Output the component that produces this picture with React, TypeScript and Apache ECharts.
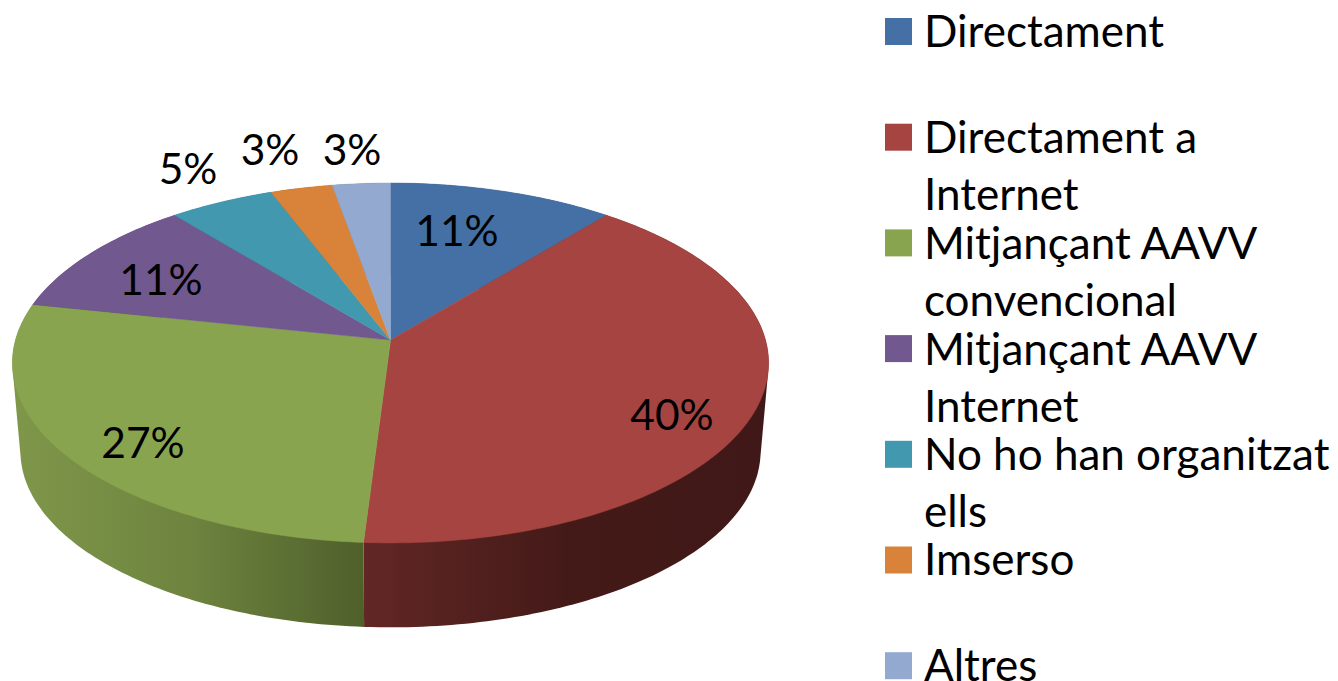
import React, { useEffect, useRef } from "react";
import * as echarts from "echarts";

const categories = [
  "Directament",
  "Directament a\nInternet",
  "Mitjançant AAVV\nconvencional",
  "Mitjançant AAVV\nInternet",
  "No ho han organitzat\nells",
  "Imserso",
  "Altres",
];
const shares = [10.9, 40.1, 27.3, 10.8, 5.1, 3, 2.8];
const topColors = ["#4470A5", "#A64442", "#88A44F", "#71588F", "#4298AF", "#D88339", "#93A9CF"];
const wallStops: string[][] = [
  ["#2A4563", "#2A4563"],
  ["#612725", "#441A18", "#3F1817"],
  ["#7F974A", "#6E843F", "#4F602B"],
  ["#443555", "#443555"],
  ["#275B69", "#275B69"],
  ["#834F22", "#834F22"],
  ["#58657C", "#58657C"],
];
// Where each percentage label sits on the page (centre of the text).
const labelCentres: [number, number][] = [
  [457, 229.5], [672, 413.5], [143, 441.5], [161, 278.5], [188, 167.5], [270, 148.5], [352, 148.5],
];

const FONT = "Lato";
const LABEL_SIZE = 42.5;
const LEGEND_SIZE = 44;
const TOP = { cx: 390.5, cy: 340, f: 375, g: 177 };
const BOTTOM = { cx: 390.5, cy: 429, f: 367, g: 173 };
const PERSPECTIVE = 0.1277;

const project = (deg: number, rim: typeof TOP): number[] => {
  const t = (deg * Math.PI) / 180;
  const X = Math.sin(t);
  const Z = Math.cos(t);
  const d = 1 + PERSPECTIVE * Z;
  return [rim.cx + (rim.f * X) / d, rim.cy - (rim.g * Z) / d];
};

const total = shares.reduce((a, b) => a + b, 0);
const startDeg = (i: number) => (shares.slice(0, i).reduce((a, b) => a + b, 0) / total) * 360;

const arc = (from: number, to: number, rim: typeof TOP): number[][] => {
  const pts: number[][] = [];
  const n = Math.max(2, Math.ceil(to - from));
  for (let k = 0; k <= n; k++) pts.push(project(from + ((to - from) * k) / n, rim));
  return pts;
};

// Outline of the swept wall: the parts inside it are hidden by the top face.
const hull = (points: number[][]): number[][] => {
  const p = [...points].sort((u, v) => u[0] - v[0] || u[1] - v[1]);
  const cross = (o: number[], u: number[], v: number[]) =>
    (u[0] - o[0]) * (v[1] - o[1]) - (u[1] - o[1]) * (v[0] - o[0]);
  const half = (list: number[][]) => {
    const out: number[][] = [];
    for (const q of list) {
      while (out.length >= 2 && cross(out[out.length - 2], out[out.length - 1], q) <= 0) out.pop();
      out.push(q);
    }
    out.pop();
    return out;
  };
  return [...half(p), ...half([...p].reverse())];
};

const renderWall = (params: any, api: any) => {
  const i = params.dataIndex;
  const a = startDeg(i);
  const b = a + (api.value(0) / total) * 360;
  const pts = [...arc(a, b, TOP), ...arc(a, b, BOTTOM)];
  const xs = pts.map((p) => p[0]);
  const stops = wallStops[i];
  const fill = new echarts.graphic.LinearGradient(
    Math.min(...xs), 0, Math.max(...xs), 0,
    stops.map((color, k) => ({ offset: k / (stops.length - 1), color })),
    true
  );
  return {
    type: "polygon",
    shape: { points: hull(pts) },
    style: { fill },
  };
};

const renderTop = (params: any, api: any) => {
  const i = params.dataIndex;
  const a = startDeg(i);
  const b = a + (api.value(0) / total) * 360;
  return {
    type: "polygon",
    shape: { points: [[TOP.cx, TOP.cy], ...arc(a, b, TOP)] },
    style: { fill: topColors[i], stroke: topColors[i], lineWidth: 0.5 },
  };
};

const renderLabel = (params: any, api: any) => {
  const [x, y] = labelCentres[params.dataIndex];
  return {
    type: "text",
    x,
    y,
    style: {
      text: `${Math.round((api.value(0) / total) * 100)}%`,
      fill: "#000000",
      font: `${LABEL_SIZE}px ${FONT}`,
      align: "center",
      verticalAlign: "middle",
    },
  };
};

const LEGEND_X = 885;
const LEGEND_TEXT_X = 924;
const LEGEND_Y0 = 31.5;
const LEGEND_STEP = 105.7;
const LEGEND_BOX = 27;
const LINE = 57;
const SINGLE_LINE = 30;
const LIFT_SINGLE = 2;
const LIFT_MULTI = 1;

export default function App() {
  const ref = useRef<HTMLDivElement>(null);
  useEffect(() => {
    document.body.style.margin = "0";
    document.body.style.background = "#ffffff";
    const chart = echarts.init(ref.current!, undefined, { renderer: "svg" });
    const rows = shares.map((v) => [v]);
    const legend: any[] = [];
    categories.forEach((name, i) => {
      const cy = LEGEND_Y0 + i * LEGEND_STEP;
      const multi = name.includes("\n");
      const lh = multi ? LINE : SINGLE_LINE;
      legend.push({
        type: "rect",
        shape: { x: LEGEND_X, y: cy - LEGEND_BOX / 2, width: LEGEND_BOX, height: LEGEND_BOX },
        style: { fill: topColors[i] },
      });
      legend.push({
        type: "text",
        x: LEGEND_TEXT_X,
        y: cy - lh / 2 - (multi ? LIFT_MULTI : LIFT_SINGLE),
        style: {
          text: name,
          fill: "#000000",
          font: `${LEGEND_SIZE}px ${FONT}`,
          lineHeight: lh,
          align: "left",
          verticalAlign: "top",
        },
      });
    });
    chart.setOption({
      animation: false,
      backgroundColor: "#ffffff",
      graphic: legend,
      series: [
        { type: "custom", coordinateSystem: "none", renderItem: renderWall, data: rows, z: 1, silent: true },
        { type: "custom", coordinateSystem: "none", renderItem: renderTop, data: rows, z: 2, silent: true },
        { type: "custom", coordinateSystem: "none", renderItem: renderLabel, data: rows, z: 3, silent: true },
      ],
    });
    return () => chart.dispose();
  }, []);
  return <div ref={ref} style={{ width: 1338, height: 681 }} />;
}
